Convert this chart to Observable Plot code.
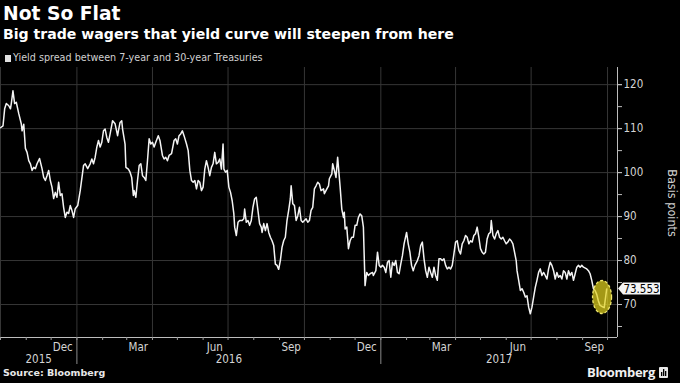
<!DOCTYPE html>
<html><head><meta charset="utf-8">
<script src="https://cdn.jsdelivr.net/npm/d3@7"></script>
<script src="https://cdn.jsdelivr.net/npm/@observablehq/plot@0.6"></script>
<style>
html,body{margin:0;padding:0;background:#000;}
#wrap{position:relative;width:680px;height:383px;overflow:hidden;background:#000;font-family:"DejaVu Sans",sans-serif;}
.t{position:absolute;left:3px;white-space:nowrap;color:#fff;}
#title{top:5px;font-size:18.7px;line-height:18.7px;font-weight:bold;}
#subtitle{top:27.3px;font-size:14.1px;line-height:14.1px;font-weight:bold;}
#legend{top:53.3px;left:5px;font-size:9.6px;line-height:10px;color:#d0d0d0;}
#legend .sq{display:inline-block;width:6px;height:7px;background:#e0e0e0;margin-right:2px;vertical-align:-0.5px;}
#chart{position:absolute;left:0;top:64px;}
#ylabel{position:absolute;left:672px;top:203px;transform:translate(-50%,-50%) rotate(90deg);font-family:"DejaVu Sans Condensed","Liberation Sans Narrow","DejaVu Sans",sans-serif;font-stretch:condensed;font-size:12.5px;color:#cfcfcf;white-space:nowrap;}
#source{position:absolute;left:3px;top:368px;font-size:9.5px;line-height:10px;font-weight:bold;color:#e8e8e8;white-space:nowrap;}
#brand{position:absolute;right:25px;top:365px;font-size:13px;line-height:14px;color:#f0f0f0;font-weight:bold;font-family:"Open Sans","DejaVu Sans",sans-serif;white-space:nowrap;letter-spacing:-0.3px;}
#logo{position:absolute;right:12px;top:367px;}
</style></head><body>
<div id="wrap">
  <div id="title" class="t">Not So Flat</div>
  <div id="subtitle" class="t">Big trade wagers that yield curve will steepen from here</div>
  <div id="legend" class="t"><span class="sq"></span>Yield spread between 7-year and 30-year Treasuries</div>
  <div id="chart"></div>
  <div id="ylabel">Basis points</div>
  <div id="source">Source: Bloomberg</div>
  <div id="brand">Bloomberg</div>
  <svg id="logo" width="9" height="11" viewBox="0 0 9 11"><rect x="0" y="0" width="9" height="11" rx="1" fill="#e8e8e8"/><rect x="2" y="5" width="1.3" height="4" fill="#000"/><rect x="4" y="2" width="1.3" height="7" fill="#000"/><rect x="6" y="4" width="1.3" height="5" fill="#000"/></svg>
</div>
<script>
const dates = [
"2015-10-01","2015-10-04","2015-10-06","2015-10-08","2015-10-11","2015-10-13","2015-10-14","2015-10-16","2015-10-18","2015-10-20",
"2015-10-23","2015-10-26","2015-10-27","2015-10-29","2015-10-31","2015-11-02","2015-11-04","2015-11-06","2015-11-08","2015-11-10",
"2015-11-12","2015-11-14","2015-11-17","2015-11-20","2015-11-22","2015-11-24","2015-11-26","2015-11-28","2015-11-30","2015-12-02",
"2015-12-04","2015-12-06","2015-12-08","2015-12-10","2015-12-12","2015-12-14","2015-12-16","2015-12-18","2015-12-20","2015-12-22",
"2015-12-24","2015-12-26","2015-12-28","2015-12-30","2016-01-02","2016-01-05","2016-01-09","2016-01-11","2016-01-14","2016-01-17",
"2016-01-19","2016-01-21","2016-01-23","2016-01-25","2016-01-27","2016-01-29","2016-01-31","2016-02-02","2016-02-04","2016-02-06",
"2016-02-08","2016-02-10","2016-02-13","2016-02-16","2016-02-19","2016-02-20","2016-02-22","2016-02-24","2016-02-25","2016-02-28",
"2016-02-29","2016-03-03","2016-03-05","2016-03-07","2016-03-09","2016-03-10","2016-03-12","2016-03-14","2016-03-16","2016-03-18",
"2016-03-20","2016-03-22","2016-03-24","2016-03-26","2016-03-28","2016-03-30","2016-04-01","2016-04-03","2016-04-05","2016-04-08",
"2016-04-10","2016-04-13","2016-04-15","2016-04-17","2016-04-19","2016-04-21","2016-04-24","2016-04-27","2016-04-29","2016-05-01",
"2016-05-03","2016-05-05","2016-05-07","2016-05-09","2016-05-12","2016-05-14","2016-05-16","2016-05-18","2016-05-20","2016-05-22",
"2016-05-24","2016-05-26","2016-05-28","2016-05-30","2016-06-01","2016-06-03","2016-06-05","2016-06-07","2016-06-09","2016-06-11",
"2016-06-13","2016-06-15","2016-06-17","2016-06-19","2016-06-21","2016-06-23","2016-06-25","2016-06-26","2016-06-28","2016-06-30",
"2016-07-02","2016-07-04","2016-07-06","2016-07-08","2016-07-09","2016-07-11","2016-07-13","2016-07-15","2016-07-18","2016-07-20",
"2016-07-21","2016-07-23","2016-07-25","2016-07-27","2016-07-29","2016-07-31","2016-08-02","2016-08-04","2016-08-06","2016-08-08",
"2016-08-10","2016-08-11","2016-08-13","2016-08-15","2016-08-17","2016-08-19","2016-08-21","2016-08-23","2016-08-25","2016-08-27",
"2016-08-29","2016-08-31","2016-09-02","2016-09-04","2016-09-06","2016-09-08","2016-09-10","2016-09-12","2016-09-14","2016-09-15",
"2016-09-17","2016-09-19","2016-09-21","2016-09-23","2016-09-25","2016-09-27","2016-09-29","2016-10-01","2016-10-03","2016-10-05",
"2016-10-07","2016-10-09","2016-10-11","2016-10-13","2016-10-15","2016-10-17","2016-10-19","2016-10-21","2016-10-24","2016-10-25",
"2016-10-28","2016-10-30","2016-10-31","2016-11-03","2016-11-04","2016-11-06","2016-11-08","2016-11-10","2016-11-11","2016-11-13",
"2016-11-15","2016-11-17","2016-11-18","2016-11-19","2016-11-21","2016-11-23","2016-11-25","2016-11-27","2016-11-29","2016-12-01",
"2016-12-03","2016-12-05","2016-12-07","2016-12-09","2016-12-11","2016-12-13","2016-12-15","2016-12-17","2016-12-19","2016-12-22",
"2016-12-23","2016-12-26","2016-12-28","2016-12-30","2017-01-01","2017-01-03","2017-01-05","2017-01-07","2017-01-09","2017-01-11",
"2017-01-13","2017-01-15","2017-01-17","2017-01-19","2017-01-21","2017-01-23","2017-01-25","2017-01-27","2017-01-29","2017-02-01",
"2017-02-03","2017-02-05","2017-02-07","2017-02-09","2017-02-11","2017-02-14","2017-02-16","2017-02-18","2017-02-20","2017-02-22",
"2017-02-24","2017-02-26","2017-02-28","2017-03-02","2017-03-04","2017-03-06","2017-03-08","2017-03-10","2017-03-12","2017-03-14",
"2017-03-16","2017-03-18","2017-03-20","2017-03-22","2017-03-24","2017-03-26","2017-03-28","2017-03-30","2017-04-01","2017-04-03",
"2017-04-05","2017-04-07","2017-04-09","2017-04-11","2017-04-13","2017-04-15","2017-04-17","2017-04-19","2017-04-21","2017-04-23",
"2017-04-25","2017-04-27","2017-04-29","2017-05-01","2017-05-03","2017-05-05","2017-05-07","2017-05-09","2017-05-11","2017-05-13",
"2017-05-14","2017-05-16","2017-05-18","2017-05-20","2017-05-22","2017-05-24","2017-05-26","2017-05-28","2017-05-30","2017-06-01",
"2017-06-03","2017-06-05","2017-06-07","2017-06-09","2017-06-11","2017-06-13","2017-06-14","2017-06-16","2017-06-18","2017-06-20",
"2017-06-22","2017-06-24","2017-06-26","2017-06-28","2017-06-30","2017-07-02","2017-07-04","2017-07-06","2017-07-08","2017-07-10",
"2017-07-12","2017-07-14","2017-07-16","2017-07-18","2017-07-20","2017-07-22","2017-07-24","2017-07-26","2017-07-28","2017-07-30",
"2017-08-01","2017-08-03","2017-08-05","2017-08-07","2017-08-09","2017-08-11","2017-08-13","2017-08-15","2017-08-17","2017-08-19",
"2017-08-21","2017-08-23","2017-08-25","2017-08-27","2017-08-29","2017-08-31","2017-09-02","2017-09-06","2017-09-08","2017-09-10",
"2017-09-12","2017-09-14","2017-09-16","2017-09-18","2017-09-20","2017-09-22","2017-09-25","2017-09-27","2017-09-30"
];
const spread = [
110.2,110.6,114.5,115.7,115.2,114.5,115.7,118.6,115.7,116.0,
113.4,111.1,109.5,111.0,105.5,104.6,102.7,102.0,100.5,101.2,
100.9,102.0,103.2,100.9,98.9,98.2,99.3,100.5,98.2,96.7,
94.1,95.5,94.4,97.8,94.8,95.2,92.1,89.8,91.0,90.7,
92.5,91.4,89.8,91.8,92.5,95.9,101.6,102.0,100.9,102.0,
103.1,102.0,103.5,105.8,107.3,105.8,106.9,109.5,109.9,108.0,
106.9,108.8,111.8,111.1,108.4,109.5,111.4,111.8,109.9,106.5,
101.2,100.8,100.1,98.9,94.8,95.9,94.4,98.2,101.6,102.0,
99.3,98.9,98.2,102.7,107.7,106.5,106.9,105.8,106.9,108.4,
107.3,103.9,103.1,103.5,102.7,103.9,104.3,107.3,107.7,106.5,
108.4,108.8,109.5,108.4,106.5,105.0,100.5,98.2,97.8,98.2,
96.3,98.2,97.8,95.9,96.7,100.8,102.7,101.2,99.3,101.2,
102.0,104.6,102.0,102.3,103.1,100.8,106.5,100.8,100.1,100.5,
96.7,95.5,93.6,90.6,87.6,85.7,88.7,89.1,89.1,89.5,
91.7,88.7,89.1,88.0,89.1,92.1,94.0,94.4,91.4,88.4,
87.6,86.4,88.4,86.8,88.4,86.4,85.3,84.5,83.4,79.2,
78.9,78.0,80.0,83.0,84.5,85.3,89.1,91.4,94.0,97.0,
92.9,92.5,89.1,90.2,92.1,89.1,88.7,89.1,89.5,88.7,
89.1,91.4,92.1,96.3,97.0,97.8,97.4,95.9,96.3,95.2,
96.3,97.0,98.6,99.7,102.0,100.5,98.9,103.5,101.2,96.7,
91.7,89.8,91.0,87.2,87.6,82.7,84.5,85.3,85.3,88.0,
88.0,89.8,90.6,90.2,87.6,74.3,77.3,76.6,77.0,77.3,
76.6,77.7,81.9,78.9,78.5,78.9,78.5,77.3,79.6,80.0,
76.2,79.6,78.9,80.0,77.3,77.0,79.2,81.1,83.8,86.4,
83.8,81.9,78.9,77.7,78.9,80.0,81.1,83.4,84.2,80.4,
77.7,76.2,78.5,77.3,76.2,78.5,76.6,75.5,80.4,80.4,
80.0,80.4,78.9,78.1,78.5,78.1,78.9,81.5,84.2,84.5,
82.3,81.5,83.8,84.5,85.7,85.3,83.8,84.5,84.2,85.7,
86.1,87.6,85.3,82.7,81.9,81.5,81.9,84.9,86.1,86.4,
89.1,85.7,84.9,86.1,86.8,85.3,84.9,85.3,84.5,83.8,
84.2,84.9,84.5,83.8,81.9,80.0,77.7,75.5,73.2,73.6,
72.8,71.7,72.0,69.4,67.9,69.4,71.7,73.9,75.5,77.3,
78.1,76.6,77.3,76.6,75.8,78.1,79.6,78.9,77.7,75.8,
77.3,76.2,76.6,75.8,77.7,77.3,75.8,77.7,76.6,77.3,
75.5,77.0,78.5,78.9,78.5,78.9,78.5,78.1,77.7,77.0,
75.5,73.6,73.2,72.3,70.8,69.8,69.5,69.3,73.553
];
const yLabelTicks = [70, 80, 90, 100, 110, 120];
const yMinorTicks = [65, 70, 75, 80, 85, 90, 95, 100, 105, 110, 115, 120];
const monthLabels = ["Dec", "Mar", "Jun", "Sep", "Dec", "Mar", "Jun", "Sep"];
const monthLabelDates = ["2015-12-15","2016-03-15","2016-06-15","2016-09-15","2016-12-15","2017-03-15","2017-06-15","2017-09-15"];
const yearLabels = ["2015", "2016", "2017"];
const xStart = "2015-10-01", xEnd = "2017-10-13";
const yMin = 62.5, yMax = 123.9;
const highlightDate = "2017-09-25", highlightValue = 71.6;

const data = dates.map((d, i) => ({date: new Date(d), value: spread[i]}));
const xDomain = [new Date(xStart), new Date(xEnd)];
const monthStarts = d3.utcMonth.range(xDomain[0], xDomain[1]);
const quarterStarts = monthStarts.filter(d => d.getUTCMonth() % 3 === 0);
const yearStarts = d3.utcYear.range(d3.utcDay.offset(xDomain[0], 1), xDomain[1]);
const yearData = yearLabels.map(y => {
  const a = new Date(Math.max(+new Date(y + "-01-01"), +xDomain[0]));
  const b = new Date(Math.min(+new Date((+y + 1) + "-01-01"), +xDomain[1]));
  return {date: new Date((+a + +b) / 2), label: y};
});
const monthData = monthLabelDates.map((d, i) => ({date: new Date(d), label: monthLabels[i]}));
const axisFont = '"DejaVu Sans Condensed","Liberation Sans Narrow","DejaVu Sans",sans-serif';

const plot = Plot.plot({
  width: 680, height: 302,
  marginTop: 3, marginBottom: 29, marginLeft: 0, marginRight: 63,
  style: {background: "#000", color: "#cfcfcf", fontFamily: axisFont, fontSize: "11.5px", overflow: "visible", fontStretch: "condensed"},
  x: {type: "utc", domain: xDomain},
  y: {domain: [yMin, yMax]},
  marks: [
    Plot.gridY(yLabelTicks, {stroke: "#363636", strokeOpacity: 1}),
    Plot.gridX(quarterStarts, {stroke: "#363636", strokeOpacity: 1}),
    Plot.line(data, {x: "date", y: "value", stroke: "#f4f4f4", strokeWidth: 1.5}),
    Plot.ruleY([yMin], {stroke: "#bdbdbd"}),
    Plot.ruleX([xDomain[1]], {stroke: "#bdbdbd"}),
    Plot.axisY(yMinorTicks, {anchor: "right", tickSize: 4, tickFormat: () => "", stroke: "#bdbdbd", label: null}),
    Plot.axisY(yLabelTicks, {anchor: "right", tickSize: 4, tickPadding: 2, stroke: "#bdbdbd", fill: "#d4d4d4", label: null}),
    Plot.axisX(monthStarts, {anchor: "bottom", tickSize: 3, tickFormat: () => "", stroke: "#9a9a9a", label: null}),
    Plot.axisX(yearStarts, {anchor: "bottom", tickSize: 27, tickFormat: () => "", stroke: "#8a8a8a", label: null}),
    Plot.text(monthData, {x: "date", text: "label", frameAnchor: "bottom", dy: 10, fill: "#d4d4d4", lineAnchor: "middle"}),
    Plot.text(yearData, {x: "date", text: "label", frameAnchor: "bottom", dy: 22, fill: "#d4d4d4", lineAnchor: "middle"})
  ]
});
document.getElementById("chart").appendChild(plot);

// annotations positioned through the plot's scales
const sx = plot.scale("x"), sy = plot.scale("y");
const svg = d3.select(plot);
const last = data[data.length - 1];
const ex = sx.apply(new Date(highlightDate)), ey = sy.apply(highlightValue);
svg.append("ellipse").attr("cx", ex).attr("cy", ey).attr("rx", 9.5).attr("ry", 16.5)
  .attr("fill", "#e2d21e").attr("fill-opacity", 0.72)
  .attr("stroke", "#f0e870").attr("stroke-width", 1.3).attr("stroke-dasharray", "3,2");
const lx = sx.range[1], ly = sy.apply(last.value);
svg.append("path")
  .attr("d", `M${lx + 1},${ly} L${lx + 6},${ly - 6} L${lx + 43},${ly - 6} L${lx + 43},${ly + 6} L${lx + 6},${ly + 6} Z`)
  .attr("fill", "#f4f4f4");
svg.append("text").attr("x", lx + 24.5).attr("y", ly).attr("dy", "0.36em")
  .attr("text-anchor", "middle").attr("fill", "#000")
  .style("font-size", "11.5px").style("font-family", axisFont).style("font-stretch", "condensed")
  .text(d3.format(".3f")(last.value));
</script>
</body></html>
